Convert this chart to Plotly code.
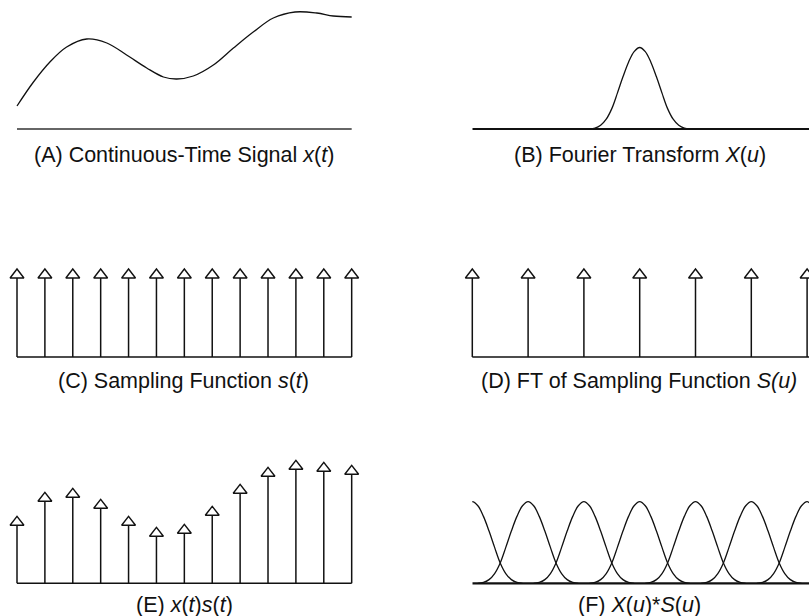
import plotly.graph_objects as go

# ---------------- data ----------------
# (A) continuous-time signal x(t): sample points
sig_t = [0.0, 0.59, 1.18, 1.78, 2.5, 3.22, 3.93, 4.65, 5.25, 5.73, 6.32, 7.04,
         7.76, 8.47, 9.19, 9.97, 10.75, 11.34, 12.0]
sig_x = [23, 47, 67, 82, 90, 86, 74, 61, 52, 50, 53, 64,
         81, 97, 111, 117, 116, 113, 112]

# (B)/(F) Fourier transform X(u): bell profile (peak = 1)
bell_off = [-0.9, -0.8, -0.7, -0.6, -0.5, -0.4, -0.3, -0.2, -0.1, 0.0,
            0.1, 0.2, 0.3, 0.4, 0.5, 0.6, 0.7, 0.8, 0.9]
bell_val = [0.0, 0.01, 0.045, 0.12, 0.25, 0.44, 0.64, 0.82, 0.95, 1.0,
            0.95, 0.82, 0.64, 0.44, 0.25, 0.12, 0.045, 0.01, 0.0]
bell_center_B = 3

# (C) sampling function s(t): impulse train
samp_t = list(range(13))
samp_amp = [1] * 13

# (D) FT of sampling function S(u): impulse train in frequency
freq_u = list(range(7))
freq_amp = [1] * 7

samp_vals = [61, 85, 89, 78, 61, 50, 53, 71, 93, 110, 117, 115, 112]

# (F) replicated spectra centres
rep_centers = list(range(7))

labels = [
    "(A) Continuous-Time Signal <i>x</i>(<i>t</i>)",
    "(B) Fourier Transform <i>X</i>(<i>u</i>)",
    "(C) Sampling Function <i>s</i>(<i>t</i>)",
    "(D) FT of Sampling Function <i>S(u)</i>",
    "(E) <i>x</i>(<i>t</i>)<i>s</i>(<i>t</i>)",
    "(F) <i>X</i>(<i>u</i>)*<i>S</i>(<i>u</i>)",
]

# ---------------- layout helpers (page pixels) ----------------
PAGE_W, PAGE_H = 809, 616
OX, OY = 0, 0                      # body margin removed by post_script
W, H = PAGE_W - OX, PAGE_H - OY    # figure size

T_PX0, T_STEP = 17.0, 27.89        # t=0 at page x 17, px per t unit
U_PX0, U_STEP = 472.3, 55.8        # u=0 at page x 472.3, px per u unit

INK = "#111111"
fig = go.Figure()


def axes(n, xpx, x_origin, x_ppu, ypx, y_base, y_ppu):
    x0, x1 = xpx
    top, bot = ypx
    ax = dict(range=[(x0 - x_origin) / x_ppu, (x1 - x_origin) / x_ppu],
              domain=[(x0 - OX) / W, (x1 - OX) / W])
    ay = dict(range=[(y_base - bot) / y_ppu, (y_base - top) / y_ppu],
              domain=[(H - (bot - OY)) / H, (H - (top - OY)) / H])
    for a in (ax, ay):
        a.update(visible=False, showgrid=False, zeroline=False, fixedrange=True)
    suf = "" if n == 1 else str(n)
    ax["anchor"] = "y" + suf
    ay["anchor"] = "x" + suf
    fig.update_layout(**{"xaxis" + suf: ax, "yaxis" + suf: ay})
    return "x" + suf, "y" + suf


T_BOUNDS = (T_PX0 - 0.28 * T_STEP, T_PX0 + 12.5 * T_STEP)

# Panel A
xa, ya = axes(1, T_BOUNDS, T_PX0, T_STEP, (4, 137), 129, 1.0)
fig.add_trace(go.Scatter(x=[sig_t[0], sig_t[-1]], y=[0, 0], mode="lines",
                         line=dict(color="#333", width=1.6), xaxis=xa, yaxis=ya))
fig.add_trace(go.Scatter(x=sig_t, y=sig_x, mode="lines", line_shape="spline",
                         line=dict(color=INK, width=1.3), xaxis=xa, yaxis=ya))

# Panel B
BS = 81.5
xb, yb = axes(2, (U_PX0, PAGE_W), U_PX0, U_STEP, (4, 137), 129, BS)
u_end = (PAGE_W - U_PX0) / U_STEP + 0.1
fig.add_trace(go.Scatter(x=[0, u_end], y=[0, 0], mode="lines",
                         line=dict(color=INK, width=2.2), xaxis=xb, yaxis=yb))
fig.add_trace(go.Scatter(x=[bell_center_B + o for o in bell_off], y=bell_val, mode="lines",
                         line_shape="spline", line=dict(color=INK, width=1.3), xaxis=xb, yaxis=yb))


def stems(xs, vs, xaxis, yaxis, base_x):
    sx, sy = [], []
    for x, v in zip(xs, vs):
        sx += [x, x, None]
        sy += [0, v, None]
    fig.add_trace(go.Scatter(x=base_x, y=[0, 0], mode="lines",
                             line=dict(color=INK, width=1.5), xaxis=xaxis, yaxis=yaxis))
    fig.add_trace(go.Scatter(x=sx, y=sy, mode="lines", line=dict(color=INK, width=1.5),
                             xaxis=xaxis, yaxis=yaxis))
    fig.add_trace(go.Scatter(x=xs, y=vs, mode="markers", cliponaxis=False,
                             marker=dict(symbol="triangle-up", size=12, color="white",
                                         line=dict(color=INK, width=1.4)),
                             xaxis=xaxis, yaxis=yaxis))


# Panel C
CS = 82.0
xc, yc = axes(3, T_BOUNDS, T_PX0, T_STEP, (237, 365), 357, CS)
stems(samp_t, samp_amp, xc, yc, [samp_t[0], samp_t[-1]])

# Panel D
xd_, yd_ = axes(4, (U_PX0 - 0.5 * U_STEP, PAGE_W), U_PX0, U_STEP, (237, 365), 357, CS)
stems(freq_u, freq_amp, xd_, yd_, [freq_u[0], u_end])

# Panel E
EB = 583.3
xe, ye = axes(5, T_BOUNDS, T_PX0, T_STEP, (EB - 140, EB + 8), EB, 1.0)
stems(samp_t, samp_vals, xe, ye, [samp_t[0], samp_t[-1]])

# Panel F
FS = 81.6
xf, yf = axes(6, (U_PX0, PAGE_W), U_PX0, U_STEP, (EB - 140, EB + 8), EB, FS)
fig.add_trace(go.Scatter(x=[0, u_end], y=[0, 0], mode="lines",
                         line=dict(color=INK, width=2.2), xaxis=xf, yaxis=yf))
for c in rep_centers:
    fig.add_trace(go.Scatter(x=[c + o for o in bell_off], y=bell_val, mode="lines",
                             line_shape="spline", line=dict(color=INK, width=1.3),
                             xaxis=xf, yaxis=yf))

# Labels (page pixel centres)
label_pos = [(184, 155), (640, 155), (183.5, 381), (639, 381), (184, 605), (639, 605)]
for txt, (px, py) in zip(labels, label_pos):
    fig.add_annotation(text=txt, x=(px - OX) / W, y=(H - (py - OY)) / H,
                       xref="paper", yref="paper",
                       xanchor="center", yanchor="middle", showarrow=False,
                       font=dict(family="Liberation Sans, Arial, Helvetica, sans-serif",
                                 size=21.5, color="#111111"))

fig.update_layout(width=W, height=H, margin=dict(l=0, r=0, t=0, b=0),
                  paper_bgcolor="white", plot_bgcolor="white", showlegend=False,
                  hovermode=False)

fig.write_html(
    "out.html",
    config={"displayModeBar": False, "staticPlot": True},
    post_script=("document.body.style.margin='0';"
                 "document.body.style.overflow='hidden';"
                 "document.documentElement.style.overflow='hidden';"),
)
